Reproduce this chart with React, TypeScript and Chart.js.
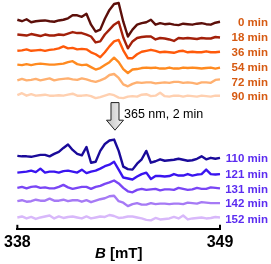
import React, { useEffect, useRef } from "react";
import { Chart, registerables } from "chart.js";

Chart.register(...registerables);

// Magnetic field (mT) sample positions
const fieldB = [
  338, 338.25, 338.5, 338.75, 339, 339.25, 339.5, 339.75, 340, 340.25, 340.5, 340.75,
  341, 341.25, 341.5, 341.75, 342, 342.25, 342.5, 342.75, 343, 343.25, 343.5, 343.75,
  344, 344.25, 344.5, 344.75, 345, 345.25, 345.5, 345.75, 346, 346.25, 346.5, 346.75,
  347, 347.25, 347.5, 347.75, 348, 348.25, 348.5, 348.75, 349,
];

const axisTicks = [338, 349];

const seriesLabels = ["0 min", "18 min", "36 min", "54 min", "72 min", "90 min", "110 min", "121 min", "131 min", "142 min", "152 min"];
// vertical stacking offset of each trace (a.u.)
const seriesOffsets = [210, 195, 180, 165, 150, 135, 72, 56, 41, 27, 11];

// EPR signal (a.u.) for each time
const s0 = [2, 0.5, 2.5, -0.5, 0.5, 1, 1.3, 0.5, 0, 1.3, 2, 3.5, 6.5, 6.5, 5, 8, -3, -10, -8, 3, 12, 18, 19, 0, -15, -8, -3, -1.5, -0.5, 2, -3, -1.5, -2.5, -2, -3, -3.5, -2, -2.5, -3, -2, -1.5, -2.5, -3, -1, 0];
const s18 = [2, 1.5, 1, 2.5, 1.5, 0.5, 2, 1, 1, 2, 1.5, 3, 4.5, 3.5, 3.5, 2, 0, -6, -5, 2, 7, 12, 15, -1, -12, -5, -1.5, -0.5, 0, 0, -3, -1.5, -2, -3, -4.5, -1.5, -2, -1.5, -2, -2.5, -1.5, -2, -2, -0.5, -1];
const s36 = [0.5, 1, 2, 0.5, 1, 1.5, 0.5, 1.5, 2, 3, 5, 3, 3.5, 2, 2.5, 2, -1, -3, -6, -1, 5, 10, 11.5, 1, -7, -7, -3, -0.5, 0.5, 1.5, 0.5, -1, -0.5, -1, -1.5, 0, 0.5, -1, -0.5, -1, -1, 0, -1, -1, -0.5];
const s54 = [1.5, 1, 2, 1, 2, 2.5, 2, 1.5, 1.5, 2, 2.5, 4, 5, 2, 1, 1.5, -1, -3.5, -2, 1, 4, 8.5, 4, -3, -7, -3.5, -3, -2, -1.5, -2, -1.5, -2.5, -2.5, -1.5, -2.5, -2.5, -1.5, -2, -1.5, -2, -2.5, -2, -1.5, -2.5, -1.5];
const s72 = [0.5, 2, 0.5, 1, 2, 0.5, 1.5, 2.5, 0.5, 1.5, 2, 2.5, 1.5, 1, 2.5, 1.5, 0, -1, 0.5, 2.5, 6, 7, 3, -3.5, -5.5, -3, -1.5, -2, -1.5, -1.5, -2.5, -2, -1.5, -2, -1, -1, -2, -1.5, -2, -3, -1.5, -1.5, -2, 1, 1.5];
const s90 = [0.5, 2.5, 0, 1.5, 0, 0.5, 1, 0, 0, 0.5, 0, 1, 2, 0, 0, 0.5, -0.5, -2.5, -1.5, 0, 1.5, 0.5, -2, -2.5, -1, -0.5, -1, 1, 1.5, -0.5, 0, 3, -0.5, -1, 0, 0, -1, 0, -0.5, -1, 0, -0.5, -1, 0, 0];
const s110 = [2, 1.5, 1.5, 1, 2, 3, 3, 1.5, 4, 6, 10, 13.5, 8, 4, 2.5, 11, -5, -4, 7, 14, 17.5, 18.5, 7, -9, -11.5, -12, -6, -1.5, 7, -5, -3.5, -1.5, -3, -2.5, -2, -1, -2, -3, -2.5, -1, 1.5, -1.5, 0, -1, 0];
const s121 = [1, 1.5, 2, 3, 1.5, 5, 1, 2, 2, 1, 2.5, 3, 2, 1, 4, 0.5, 2, 3, 5, 7.5, 9, 12, 4, -4, -5, -6, -3, -0.5, 1, -5.5, -2.5, -2.5, -3, -2.5, -0.5, -2, -2, -0.5, -2, -1, -0.5, 4, -0.5, -1, -0.5];
const s131 = [0.5, 1.5, 0, 1.5, 2, 0.5, 1, 0, 0, 1.5, 3.5, 1, -0.5, 0.5, 1.5, 1.5, -0.5, 1.5, 2.5, 4.5, 6, 8, 5, 0.5, -3, -4, -1.5, -0.5, -1.5, -1, -0.5, -2, -1, -1, -1.5, 0.5, -0.5, -1.5, -1, 0.5, -0.5, -0.5, 1, 0.5, 0];
const s142 = [1, 2, 0.5, 1, 2.5, 1.5, 1.5, 3.5, 1.5, 1.5, 2.5, 1, 2, 2, 0.5, 2, 0, 1.5, 3, 4, 6, 6.5, 1, -0.5, -4, -2, -1, -2.5, -2.5, -1, -2, -1.5, -1.5, -2, -1.5, -1.5, -2, -0.5, -1, -1.5, 0, -0.5, -1, -1, -1];
const s152 = [0.5, 1.5, -0.5, 1, -1, 0.5, 1.5, 2.5, -0.5, 1.5, 0, 1, 1.5, 0.5, -0.5, 1.5, -0.5, 0.5, 1.5, 1, 3, 2, 0, 0.5, 1.5, 1.5, 0.5, -0.5, -2, -2.5, 0, -1.5, -1, -0.5, 1, -0.5, 2.5, -1.5, -0.5, 0, 0.5, -0.5, 0, 1, 0.5];

const seriesValues = [s0, s18, s36, s54, s72, s90, s110, s121, s131, s142, s152];

const arrowText = "365 nm, 2 min";
const arrowB = 343.3;
const arrowTop = 128;
const arrowBottom = 100;

const lineColors = ["#5c0f0a", "#a3200a", "#ff5a0a", "#ff8a20", "#ffb070", "#ffd0b0", "#1a0a9a", "#3a14f0", "#7a46f5", "#a67af5", "#d8b8fa"];
const FONT = '"Liberation Sans", Arial, sans-serif';

const overlayPlugin = {
  id: "overlay",
  afterDraw(chart: any) {
    const { ctx, chartArea, scales } = chart;
    const xs = scales.x;
    const ys = scales.y;
    ctx.save();
    // inward end ticks
    ctx.strokeStyle = "#000";
    ctx.lineWidth = 2;
    axisTicks.forEach((v) => {
      const px = xs.getPixelForValue(v);
      ctx.beginPath();
      ctx.moveTo(px, chartArea.bottom);
      ctx.lineTo(px, chartArea.bottom - 4);
      ctx.stroke();
    });
    // series labels
    ctx.font = `bold 11.5px ${FONT}`;
    ctx.textAlign = "right";
    ctx.textBaseline = "middle";
    seriesLabels.forEach((lab, i) => {
      ctx.fillStyle = i < 6 ? "#d65a12" : "#5b2cf0";
      ctx.fillText(lab, chartArea.right + 48, ys.getPixelForValue(seriesOffsets[i]) + 1.5);
    });
    // axis title: italic B + [mT]
    const cx = (chartArea.left + chartArea.right) / 2;
    const ty = chartArea.bottom + 25;
    ctx.fillStyle = "#000";
    ctx.textAlign = "left";
    ctx.font = `italic bold 15px ${FONT}`;
    const wB = ctx.measureText("B").width;
    ctx.font = `bold 15px ${FONT}`;
    const rest = " [mT]";
    const wR = ctx.measureText(rest).width;
    const x0 = cx - (wB + wR) / 2;
    ctx.font = `italic bold 15px ${FONT}`;
    ctx.fillText("B", x0, ty);
    ctx.font = `bold 15px ${FONT}`;
    ctx.fillText(rest, x0 + wB, ty);
    // arrow
    const ax = xs.getPixelForValue(arrowB);
    const yTop = ys.getPixelForValue(arrowTop);
    const yBot = ys.getPixelForValue(arrowBottom);
    const headLen = 10;
    const shaftHalf = 4;
    const headHalf = 8.5;
    const grad = ctx.createLinearGradient(ax - headHalf, 0, ax + headHalf, 0);
    grad.addColorStop(0, "#c4c4c4");
    grad.addColorStop(1, "#f2f2f2");
    ctx.beginPath();
    ctx.moveTo(ax - shaftHalf, yTop);
    ctx.lineTo(ax + shaftHalf, yTop);
    ctx.lineTo(ax + shaftHalf, yBot - headLen);
    ctx.lineTo(ax + headHalf, yBot - headLen);
    ctx.lineTo(ax, yBot);
    ctx.lineTo(ax - headHalf, yBot - headLen);
    ctx.lineTo(ax - shaftHalf, yBot - headLen);
    ctx.closePath();
    ctx.fillStyle = grad;
    ctx.fill();
    ctx.strokeStyle = "#222";
    ctx.lineWidth = 1;
    ctx.stroke();
    ctx.fillStyle = "#000";
    ctx.font = `12.5px ${FONT}`;
    ctx.textAlign = "left";
    ctx.textBaseline = "middle";
    ctx.fillText(arrowText, ax + 9, (yTop + yBot) / 2 - 1.5);
    ctx.restore();
  },
};

export default function App() {
  const ref = useRef<HTMLCanvasElement | null>(null);
  useEffect(() => {
    if (!ref.current) return;
    const datasets = seriesValues.map((vals, i) => ({
      label: seriesLabels[i],
      data: vals.map((v, j) => ({ x: fieldB[j], y: seriesOffsets[i] + v })),
      borderColor: lineColors[i],
      backgroundColor: lineColors[i],
      borderWidth: 2.4,
      pointRadius: 0,
      tension: 0,
      fill: false,
      clip: false as any,
      borderJoinStyle: "round" as const,
    }));
    const chart = new Chart(ref.current, {
      type: "line",
      data: { datasets },
      options: {
        responsive: false,
        animation: false,
        layout: { padding: { left: 15, right: 51, top: 2, bottom: 8 } },
        plugins: { legend: { display: false }, tooltip: { enabled: false } },
        scales: {
          x: {
            type: "linear",
            min: 338,
            max: 349,
            afterBuildTicks: (axis: any) => {
              axis.ticks = axisTicks.map((v) => ({ value: v }));
            },
            grid: { display: false, drawTicks: false },
            border: { display: true, color: "#000", width: 2 },
            ticks: {
              padding: 4,
              color: "#000",
              autoSkip: false,
              maxRotation: 0,
              font: { family: FONT, size: 16, weight: "bold" },
            },
          },
          y: { display: false, min: 0, max: 230 },
        },
      },
      plugins: [overlayPlugin],
    });
    return () => chart.destroy();
  }, []);
  return (
    <div style={{ position: "absolute", left: 0, top: 0, width: 271, height: 264 }}>
      <canvas ref={ref} width={271} height={264} style={{ display: "block" }} />
    </div>
  );
}
